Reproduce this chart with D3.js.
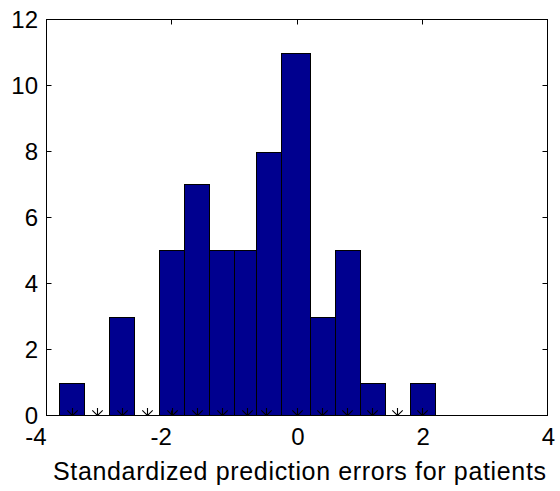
<!DOCTYPE html>
<html>
<head>
<meta charset="utf-8">
<script src="https://cdn.jsdelivr.net/npm/d3@7"></script>
<style>
  html, body { margin: 0; padding: 0; background: #fff; }
  svg { display: block; }
  text { font-family: "Liberation Sans", Arial, Helvetica, sans-serif; fill: #000; }
</style>
</head>
<body>
<svg id="chart" width="560" height="491"></svg>
<script>
// ---- data ----
const binCenters = [-3.6, -3.2, -2.8, -2.4, -2.0, -1.6, -1.2, -0.8, -0.5, 0.0, 0.4, 0.8, 1.2, 1.6, 2.0];
const binCounts  = [1, 0, 3, 0, 5, 7, 5, 5, 8, 11, 3, 5, 1, 0, 1];
const xTickValues = [-4, -2, 0, 2, 4];
const yTickValues = [0, 2, 4, 6, 8, 10, 12];
const xLabel = "Standardized prediction errors for patients";

(function () {
// ---- layout ----
const pL = 46.5, pR = 547.5, pT = 19.5, pB = 415.5;
const svg = d3.select("#chart");

const x = d3.scaleLinear().domain([-4, 4]).range([pL, pR]);
const y = d3.scaleLinear().domain([0, 12]).range([pB, pT]);

// bin edges from centers (midpoints; outer edges mirror the neighbour half-width)
const n = binCenters.length;
const edges = [];
for (let i = 0; i <= n; i++) {
  if (i === 0) edges.push(binCenters[0] - (binCenters[1] - binCenters[0]) / 2);
  else if (i === n) edges.push(binCenters[n - 1] + (binCenters[n - 1] - binCenters[n - 2]) / 2);
  else edges.push((binCenters[i - 1] + binCenters[i]) / 2);
}
const bins = binCenters.map((c, i) => ({ c, n: binCounts[i], x0: edges[i], x1: edges[i + 1] }));

// clip path for plot area
svg.append("defs").append("clipPath").attr("id", "plotclip")
  .append("rect").attr("x", pL).attr("y", pT).attr("width", pR - pL).attr("height", pB - pT);

const plot = svg.append("g").attr("clip-path", "url(#plotclip)");

// bars
plot.selectAll("rect.bar").data(bins.filter(d => d.n > 0)).enter().append("rect")
  .attr("class", "bar")
  .attr("x", d => Math.round(x(d.x0)) + 0.5)
  .attr("y", d => Math.round(y(d.n)) + 0.5)
  .attr("width", d => Math.round(x(d.x1)) - Math.round(x(d.x0)))
  .attr("height", d => Math.round(y(0)) - Math.round(y(d.n)))
  .attr("fill", "#00008F")
  .attr("stroke", "#000")
  .attr("stroke-width", 1);

// asterisk markers at bin centers on the baseline
const r = 7.5, rd = 5.2;
const star = plot.selectAll("g.star").data(bins).enter().append("g")
  .attr("class", "star")
  .attr("transform", d => `translate(${Math.round(x(d.c)) + 0.5},${y(0)})`);
star.append("path")
  .attr("d", `M0,${-r}L0,${r}M${-r},0L${r},0M${-rd},${-rd}L${rd},${rd}M${-rd},${rd}L${rd},${-rd}`)
  .attr("stroke", "#000").attr("stroke-width", 1.1).attr("fill", "none");

// axes box
svg.append("rect")
  .attr("x", pL).attr("y", pT).attr("width", pR - pL).attr("height", pB - pT)
  .attr("fill", "none").attr("stroke", "#000").attr("stroke-width", 1);

// ticks (inward, on all four sides)
const tl = 5;
const ticks = svg.append("g").attr("stroke", "#000").attr("stroke-width", 1);
xTickValues.forEach(v => {
  const xx = Math.round(x(v) - 0.5) + 0.5;
  ticks.append("line").attr("x1", xx).attr("x2", xx).attr("y1", pB).attr("y2", pB - tl);
  ticks.append("line").attr("x1", xx).attr("x2", xx).attr("y1", pT).attr("y2", pT + tl);
});
yTickValues.forEach(v => {
  const yy = Math.round(y(v) - 0.5) + 0.5;
  ticks.append("line").attr("y1", yy).attr("y2", yy).attr("x1", pL).attr("x2", pL + tl);
  ticks.append("line").attr("y1", yy).attr("y2", yy).attr("x1", pR).attr("x2", pR - tl);
});

// tick labels
const fs = 24;
svg.append("g").selectAll("text").data(xTickValues).enter().append("text")
  .attr("x", d => d < 0 ? x(d) : x(d) + 1)
  .attr("y", 445)
  .attr("text-anchor", d => d < 0 ? "end" : "middle")
  .attr("font-size", fs)
  .text(d => d);

svg.append("g").selectAll("text").data(yTickValues).enter().append("text")
  .attr("x", 38)
  .attr("y", d => y(d) + 8.5)
  .attr("text-anchor", "end")
  .attr("font-size", fs)
  .text(d => d);

// x axis label
svg.append("text")
  .attr("x", 299.5)
  .attr("y", 479.5)
  .attr("text-anchor", "middle")
  .attr("font-size", 25)
  .attr("textLength", 493)
  .attr("lengthAdjust", "spacing")
  .text(xLabel);
})();
</script>
</body>
</html>
